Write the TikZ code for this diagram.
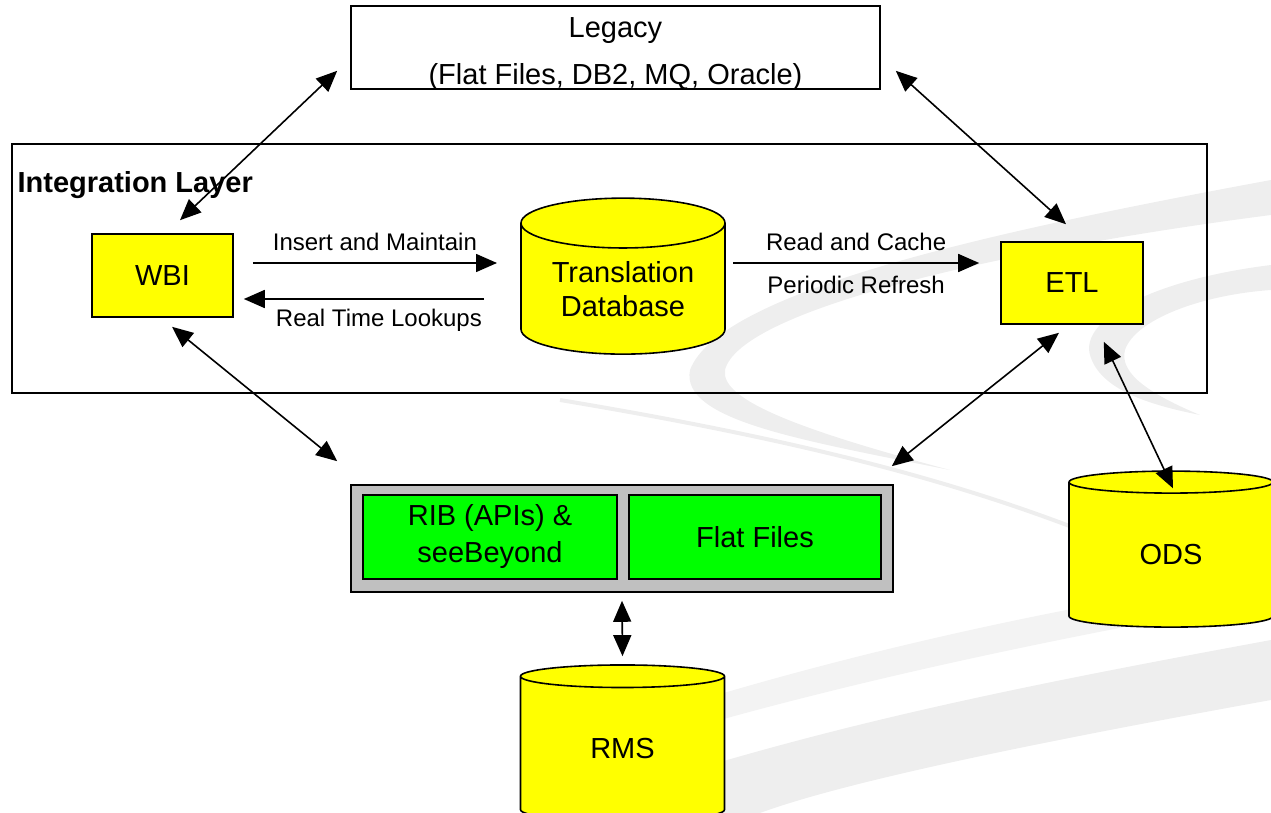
\documentclass[tikz,border=0pt]{standalone}
\usepackage{fontspec}
\setmainfont{Liberation Sans}
\usetikzlibrary{shapes.geometric,arrows.meta,calc}

\definecolor{sysyellow}{RGB}{255,255,0}
\definecolor{ribgreen}{RGB}{0,255,0}
\definecolor{ribgrey}{RGB}{192,192,192}
\definecolor{swoosh}{RGB}{238,238,238}

\tikzset{
  tip/.tip={Triangle[length=10.5pt,width=9pt]},
  twoway/.style={line width=0.8pt,tip-tip},
  oneway/.style={line width=0.8pt,-tip},
  flow/.style={font=\fontsize{12}{14}\selectfont},
}

\begin{document}
\begin{tikzpicture}[x=0.5pt,y=-0.5pt]
		\tikzstyle{every node}=[font=\fontsize{14.5}{17}\selectfont,inner sep=0pt]
		\tikzstyle{sysbox}=[draw,line width=0.8pt,fill=sysyellow,minimum width=70.5pt,minimum height=41.5pt]
		\tikzstyle{ribbox}=[draw,line width=0.8pt,fill=ribgreen,minimum height=42pt,align=center]
		\tikzstyle{db}=[cylinder,shape border rotate=90,aspect=0.35,draw,line width=0.8pt,fill=sysyellow,minimum width=102pt,minimum height=78pt,align=center]
		\useasboundingbox (0,0) rectangle (1271,813);
		
		% background swooshes
		\fill [swoosh!70] (700,700) .. controls (900,640) and (1100,600) .. (1271,575) -- (1271,600) .. controls (1100,630) and (900,670) .. (720,720) -- cycle;
		\fill [swoosh] (560,813) .. controls (800,730) and (1000,690) .. (1271,640) -- (1271,700) .. controls (1050,740) and (850,780) .. (760,813) -- cycle;
		\fill [swoosh] (1271,180) .. controls (1000,230) and (720,290) .. (690,370) .. controls (680,420) and (800,440) .. (950,470) .. controls (800,430) and (720,400) .. (725,370) .. controls (740,310) and (1000,250) .. (1271,215) -- cycle;
		\fill [swoosh] (1271,265) .. controls (1150,280) and (1080,320) .. (1090,355) .. controls (1100,390) and (1150,405) .. (1200,415) .. controls (1140,390) and (1120,370) .. (1125,350) .. controls (1135,320) and (1200,295) .. (1271,290) -- cycle;
		\draw [swoosh,line width=2pt] (560,400) .. controls (800,440) and (950,480) .. (1080,530);
		
		
		\node (legacy) [draw,line width=0.8pt,fill=white,minimum width=264.5pt,minimum height=41.5pt] at (615.5,47.5) {};
		\node (legacytext) [align=center,font=\fontsize{14.5}{23.5}\selectfont] at ([yshift=-3.5pt]legacy.center) {Legacy\\(Flat Files, DB2, MQ, Oracle)};
		
		\node (layer) [draw,line width=0.8pt,minimum width=597.5pt,minimum height=124.5pt] at (609.5,268.5) {};
		\node (layername) [anchor=base west,font=\bfseries\fontsize{14.5}{17}\selectfont] at ([shift={(6,49)}]layer.north west) {Integration Layer};
		
		\node (wbi) [sysbox] at (162.5,275.5) {WBI};
		\node (etl) [sysbox,minimum width=71pt,minimum height=41pt] at (1072,283) {ETL};
		\node (tdb) [db] at (623,289) {Translation\\Database};
		
		\node (ribframe) [draw,line width=0.8pt,fill=ribgrey,minimum width=271pt,minimum height=53.5pt] at (622,538.5) {};
		\node (rib) [ribbox,minimum width=127pt,font=\fontsize{14.5}{18.5}\selectfont] at (490,537) {RIB (APIs) \&\\seeBeyond};
		\node (flat) [ribbox,minimum width=126pt] at (755,537) {Flat Files};
		
		\node (rms) [db] at (622.5,749) {RMS};
		\node (ods) [db] at (1171,555) {ODS};
		
		
		\draw [oneway] ([shift={(19,-12.5)}]wbi.east) -- ([shift={(-126,-26)}]tdb.center) node [flow,midway,yshift=10.5pt] {Insert and Maintain};
		\draw [oneway] ([shift={(-139,10)}]tdb.center) -- ([shift={(10,23.5)}]wbi.east) node [flow,midway,xshift=7.5pt,yshift=-10.5pt] {Real Time Lookups};
		\draw [oneway] ([shift={(110,-26)}]tdb.center) -- ([shift={(-21,-20)}]etl.west) node [flow,midway,yshift=10.5pt] {Read and Cache} node [flow,midway,yshift=-11pt] {Periodic Refresh};
		
		\draw [twoway] ([shift={(17.5,-13)}]wbi.north) -- ([shift={(-13,-19)}]legacy.south west);
		\draw [twoway] ([shift={(15,-19)}]legacy.south east) -- ([shift={(-6,-17)}]etl.north);
		\draw [twoway] ([shift={(9.5,9)}]wbi.south) -- ([shift={(-13,-23)}]ribframe.north west);
		\draw [twoway] ([shift={(-13,8)}]etl.south) -- ([shift={(-2,-18)}]ribframe.north east);
		\draw [twoway] ([shift={(-40,17)}]etl.south east) -- ([shift={(2,18)}]ods.north);
		\draw [twoway] ([shift={(0,8)}]ribframe.south) -- ([shift={(0,-8)}]rms.north);
		
		\end{tikzpicture}
\end{document}
